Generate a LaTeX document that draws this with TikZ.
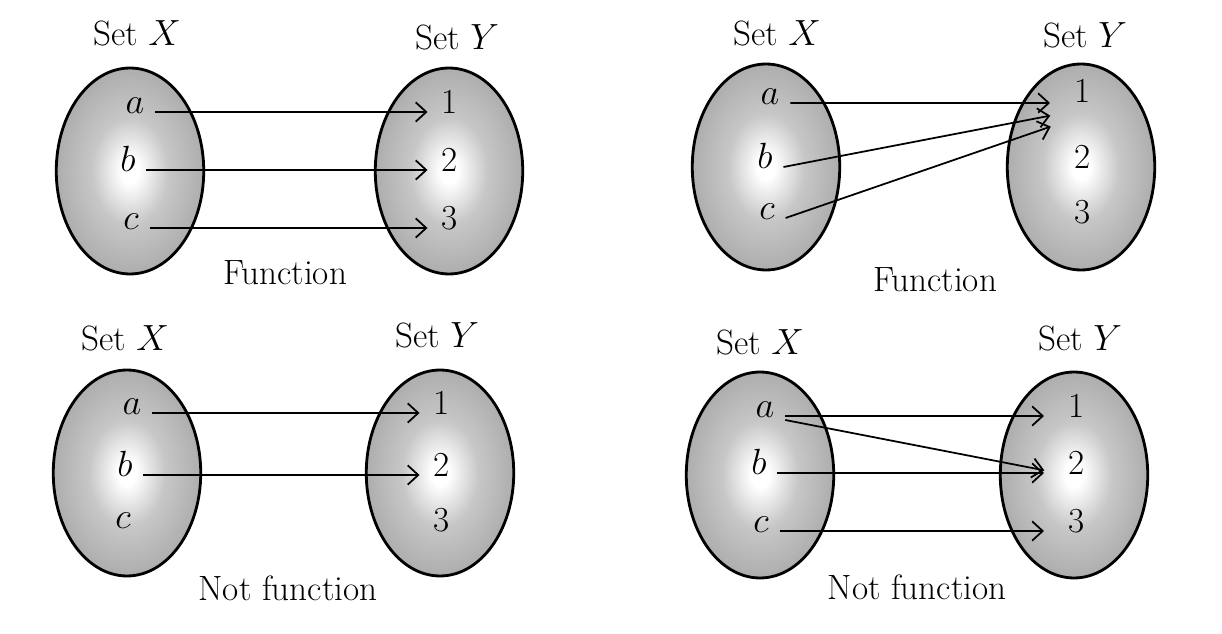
\documentclass[tikz,border=0pt]{standalone}
\usetikzlibrary{shapes.geometric,arrows.meta}

\pgfdeclareradialshading{setglow}{\pgfpoint{0bp}{0bp}}{color(0bp)=(white); color(3bp)=(white);
  color(13bp)=(black!22); color(25bp)=(black!32); color(50bp)=(black!32)}

\begin{document}
\begin{tikzpicture}[x=0.02cm,y=-0.02cm,
  font=\fontsize{20}{24}\selectfont,
  >={Straight Barb[length=6pt,width=11pt]},
  setbag/.style={ellipse, draw, line width=1.6pt, minimum width=2.95cm, minimum height=4.12cm,
    shading=setglow},
  elem/.style={inner xsep=6pt, inner ysep=1pt, text height=1ex, text depth=0.6ex},
  maps/.style={->, line width=1pt, shorten >=2pt}]
\useasboundingbox (0,0) rectangle (1222,634);

% top left
\node (X1) at (130,171) [setbag]{};
\node (Y1) at (449,171) [setbag]{};
\node (X1-t) at (137,33) {Set $X$};
\node (Y1-t) at (457,37) {Set $Y$};
\node (F1) at (285,273) {Function};
\node (X1-a) at (135,112) [elem]{$a$};
\node (X1-b) at (128,170) [elem]{$b$};
\node (X1-c) at (131,228) [elem]{$c$};
\node (Y1-1) at (450,112) [elem]{1};
\node (Y1-2) at (450,170) [elem]{2};
\node (Y1-3) at (450,228) [elem]{3};
\draw [maps] (X1-a) -- (Y1-1);
\draw [maps] (X1-b) -- (Y1-2);
\draw [maps] (X1-c) -- (Y1-3);

% top right
\node (X2) at (766,167) [setbag]{};
\node (Y2) at (1081,167) [setbag]{};
\node (X2-t) at (777,33) {Set $X$};
\node (Y2-t) at (1085,35) {Set $Y$};
\node (F2) at (935,280) {Function};
\node (X2-a) at (770,103) [elem]{$a$};
\node (X2-b) at (765,167) [elem]{$b$};
\node (X2-c) at (767,218) [elem]{$c$};
\node (Y2-1) at (1083,101) [elem]{1};
\node (Y2-2) at (1083,167) [elem]{2};
\node (Y2-3) at (1083,222) [elem]{3};
\draw [maps, shorten >=8pt] (X2-a.east) -- ([yshift=-0.04cm]Y2-1.west);
\draw [maps, shorten >=8pt] (X2-b.east) -- ([yshift=-0.24cm]Y2-1.west);
\draw [maps, shorten >=8pt] (X2-c.east) -- ([yshift=-0.42cm]Y2-1.west);

% bottom left
\node (X3) at (127,473) [setbag]{};
\node (Y3) at (440,473) [setbag]{};
\node (X3-t) at (125,338) {Set $X$};
\node (Y3-t) at (437,335) {Set $Y$};
\node (F3) at (288,588) {Not function};
\node (X3-a) at (132,413) [elem]{$a$};
\node (X3-b) at (125,475) [elem]{$b$};
\node (X3-c) at (123,527) [elem]{$c$};
\node (Y3-1) at (442,413) [elem]{1};
\node (Y3-2) at (442,475) [elem]{2};
\node (Y3-3) at (442,530) [elem]{3};
\draw [maps] (X3-a) -- (Y3-1);
\draw [maps] (X3-b) -- (Y3-2);

% bottom right
\node (X4) at (760,475) [setbag]{};
\node (Y4) at (1074,475) [setbag]{};
\node (X4-t) at (760,342) {Set $X$};
\node (Y4-t) at (1080,338) {Set $Y$};
\node (F4) at (917,587) {Not function};
\node (X4-a) at (765,416) [elem]{$a$};
\node (X4-b) at (759,473) [elem]{$b$};
\node (X4-c) at (761,531) [elem]{$c$};
\node (Y4-1) at (1077,416) [elem]{1};
\node (Y4-2) at (1077,473) [elem]{2};
\node (Y4-3) at (1077,531) [elem]{3};
\draw [maps, shorten >=8pt] (X4-a.east) -- (Y4-1.west);
\draw [maps, shorten >=8pt] ([yshift=-0.08cm]X4-a.east) -- (Y4-2.west);
\draw [maps, shorten >=8pt] (X4-b.east) -- (Y4-2.west);
\draw [maps, shorten >=8pt] (X4-c.east) -- (Y4-3.west);

\end{tikzpicture}
\end{document}
